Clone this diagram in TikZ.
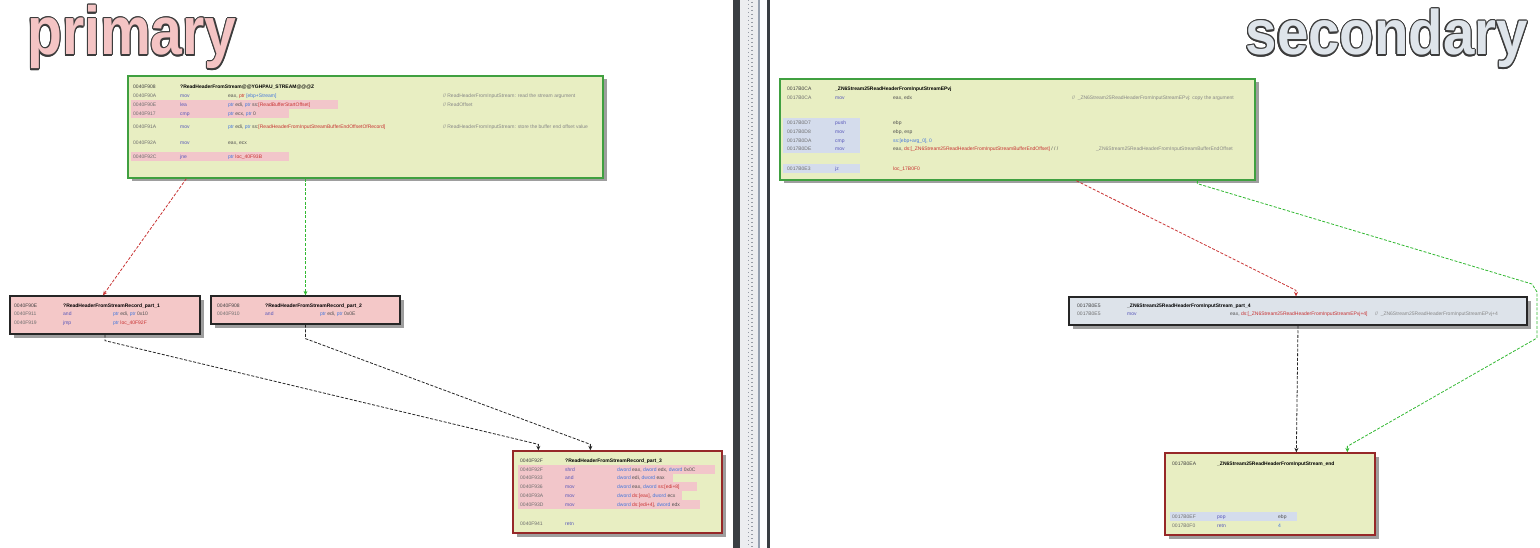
\documentclass[tikz,border=0pt]{standalone}
\usepackage{fontspec}
\setmainfont{Liberation Sans}
\usepackage[copies]{contour}
\usetikzlibrary{shadows,arrows.meta,calc}
\definecolor{yfill}{RGB}{232,238,194}
\definecolor{gborder}{RGB}{64,160,64}
\definecolor{pfill}{RGB}{244,200,200}
\definecolor{rborder}{RGB}{150,40,40}
\definecolor{bfill}{RGB}{221,227,234}
\definecolor{hlpink}{RGB}{242,198,202}
\definecolor{hlblue}{RGB}{212,220,236}
\definecolor{addrc}{RGB}{110,110,110}
\definecolor{mnc}{RGB}{85,85,185}
\definecolor{kwc}{RGB}{70,120,220}
\definecolor{nmc}{RGB}{200,50,50}
\definecolor{regc}{RGB}{80,80,80}
\definecolor{cmtc}{RGB}{135,135,135}
\definecolor{redE}{RGB}{200,50,50}
\definecolor{grnE}{RGB}{50,185,50}
\definecolor{titlepink}{RGB}{244,196,196}
\definecolor{titleblue}{RGB}{222,228,234}
\definecolor{titleedge}{RGB}{60,60,60}
\definecolor{divdark}{RGB}{58,62,66}
\definecolor{divlight}{RGB}{236,237,240}
\definecolor{divmid}{RGB}{150,160,175}
\definecolor{dotc}{RGB}{150,155,165}
\newcommand\codefont{\fontsize{5}{5.5}\selectfont}
\newcommand\kw[1]{\textcolor{kwc}{#1}}
\newcommand\nm[1]{\textcolor{nmc}{#1}}
\newcommand\asmrow[6]{%
  \node[code,text=addrc] (#1a) at (\cA,#2) {#3};
  \node[code,text=mnc] (#1m) at (\cM,#2) {#4};
  \node[code] (#1o) at (\cO,#2) {#5};
  \node[code,text=cmtc] (#1c) at (\cC,#2) {#6};}
\newcommand\hdrrow[4]{%
  \node[code,text=black!75] (#1a) at (\cA,#2) {#3};
  \node[code,text=black,font=\codefont\bfseries] (#1t) at (\cM,#2) {#4};}
\newcommand\hl[4]{\fill[#1] (#2,#4-6.5) rectangle (#3,#4+2.5);}
\contourlength{1.3pt}
\begin{document}
\begin{tikzpicture}[x=1pt,y=-1pt,
  code/.style={anchor=base west,inner sep=0,font=\codefont,text=regc},
  boxbase/.style={rectangle,inner sep=0,line width=1.3pt,
    drop shadow={shadow xshift=3.5pt,shadow yshift=-3.5pt,fill=black,opacity=0.38}},
  gbox/.style={boxbase,draw=gborder,fill=yfill},
  pbox/.style={boxbase,draw=black!85,fill=pfill},
  rbox/.style={boxbase,draw=rborder,fill=yfill},
  bbox/.style={boxbase,draw=black!85,fill=bfill},
  flow/.style={line width=0.8pt,dash pattern=on 3pt off 1.6pt,-{Stealth[length=4.5pt,width=4pt]}},
  ]
\useasboundingbox[fill=white] (0,0) rectangle (1540,548);
% divider
\fill[divdark] (733,0) rectangle (740,548);
\fill[divlight] (740,0) rectangle (758,548);
\draw[dotc,line width=1.3pt,dash pattern=on 1.3pt off 2.7pt] (748.5,0) -- (748.5,548);
\draw[dotc,line width=1.3pt,dash pattern=on 1.3pt off 2.7pt] (752,2) -- (752,548);
\fill[divmid] (758,0) rectangle (760,548);
\fill[divdark] (767,0) rectangle (770,548);
% titles
\node[anchor=base west,inner sep=0] (ptitle) at (27,55)
  {\scalebox{0.84}[1]{\fontsize{68}{68}\selectfont\bfseries\contour{titleedge}{\textcolor{titlepink}{primary}}}};
\node[anchor=base east,inner sep=0] (stitle) at (1528,55)
  {\scalebox{0.94}[1.05]{\fontsize{60}{60}\selectfont\bfseries\contour{titleedge}{\textcolor{titleblue}{secondary}}}};
% boxes
\node[gbox,minimum width=475pt,minimum height=102pt] (A) at (365.5,127) {};
\node[pbox,minimum width=190pt,minimum height=38pt] (B) at (105,315) {};
\node[pbox,minimum width=189pt,minimum height=28pt] (C) at (305.5,310) {};
\node[rbox,minimum width=209pt,minimum height=82pt] (D) at (617.5,492) {};
\node[gbox,minimum width=475pt,minimum height=101pt] (E) at (1017.5,129.5) {};
\node[bbox,minimum width=458pt,minimum height=28pt] (F) at (1298,311) {};
\node[rbox,minimum width=210pt,minimum height=82pt] (G) at (1270,494) {};
% ---- box A
\hl{hlpink}{131}{338}{107}
\hl{hlpink}{131}{289}{116}
\hl{hlpink}{131}{289}{159}
\def\cA{133}\def\cM{180}\def\cO{228}\def\cC{443}
\hdrrow{a0}{89}{0040F908}{?ReadHeaderFromStream@@YGHPAU\_STREAM@@@Z}
\asmrow{a1}{98}{0040F90A}{mov}{eax, \nm{ptr} \kw{[ebp+Stream]}}{// ReadHeaderFromInputStream: read the stream argument}
\asmrow{a2}{107}{0040F90E}{lea}{\kw{ptr} edi, \kw{ptr} ss:\nm{[ReadBufferStartOffset]}}{// ReadOffset}
\asmrow{a3}{116}{0040F917}{cmp}{\kw{ptr} ecx, \kw{ptr} 0}{}
\asmrow{a4}{129}{0040F91A}{mov}{\kw{ptr} edi, \kw{ptr} ss:\nm{[ReadHeaderFromInputStreamBufferEndOffsetOfRecord]}}{// ReadHeaderFromInputStream: store the buffer end offset value}
\asmrow{a5}{145}{0040F92A}{mov}{eax, ecx}{}
\asmrow{a6}{159}{0040F92C}{jne}{\kw{ptr} \nm{loc\_40F93B}}{}
% ---- box B
\def\cA{14}\def\cM{63}\def\cO{113}\def\cC{190}
\hdrrow{b0}{307}{0040F90E}{?ReadHeaderFromStreamRecord\_part\_1}
\asmrow{b1}{316}{0040F911}{and}{\kw{ptr} edi, \kw{ptr} 0x10}{}
\asmrow{b2}{324}{0040F919}{jmp}{\kw{ptr} \nm{loc\_40F92F}}{}
% ---- box C
\def\cA{217}\def\cM{265}\def\cO{320}\def\cC{390}
\hdrrow{c0}{307}{0040F908}{?ReadHeaderFromStreamRecord\_part\_2}
\asmrow{c1}{316}{0040F910}{and}{\kw{ptr} edi, \kw{ptr} 0x0E}{}
% ---- box D
\hl{hlpink}{518}{715}{471}
\hl{hlpink}{518}{673}{479}
\hl{hlpink}{518}{697}{488}
\hl{hlpink}{518}{682}{497}
\hl{hlpink}{518}{700}{506}
\def\cA{520}\def\cM{565}\def\cO{617}\def\cC{715}
\hdrrow{d0}{462}{0040F92F}{?ReadHeaderFromStreamRecord\_part\_3}
\asmrow{d1}{471}{0040F92F}{shrd}{\kw{dword} eax, \kw{dword} edx, \kw{dword} 0x0C}{}
\asmrow{d2}{479}{0040F933}{and}{\kw{dword} edi, \kw{dword} eax}{}
\asmrow{d3}{488}{0040F936}{mov}{\kw{dword} eax, \kw{dword} \nm{ss:[edi+8]}}{}
\asmrow{d4}{497}{0040F93A}{mov}{\kw{dword} \nm{ds:[eax]}, \kw{dword} ecx}{}
\asmrow{d5}{506}{0040F93D}{mov}{\kw{dword} \nm{ds:[edi+4]}, \kw{dword} edx}{}
\asmrow{d6}{525}{0040F941}{retn}{}{}
% ---- box E
\hl{hlblue}{783}{860}{125}
\hl{hlblue}{783}{860}{134}
\hl{hlblue}{783}{860}{143}
\hl{hlblue}{783}{860}{151}
\hl{hlblue}{783}{860}{171}
\def\cA{787}\def\cM{835}\def\cO{893}\def\cC{1072}
\hdrrow{e0}{91}{0017B0CA}{\_ZN6Stream25ReadHeaderFromInputStreamEPvj}
\asmrow{e1}{100}{0017B0CA}{mov}{eax, edx}{//\ \ \_ZN6Stream25ReadHeaderFromInputStreamEPvj: copy the argument}
\asmrow{e2}{125}{0017B0D7}{push}{ebp}{}
\asmrow{e3}{134}{0017B0D8}{mov}{ebp, esp}{}
\asmrow{e4}{143}{0017B0DA}{cmp}{\kw{ss:[ebp+arg\_0], 0}}{}
\asmrow{e5}{151}{0017B0DE}{mov}{eax, \nm{ds:[\_ZN6Stream25ReadHeaderFromInputStreamBufferEndOffset]} / / /}{\hspace{24pt}\_ZN6Stream25ReadHeaderFromInputStreamBufferEndOffset}
\asmrow{e6}{171}{0017B0E3}{jz}{\nm{loc\_17B0F0}}{}
% ---- box F
\def\cA{1077}\def\cM{1127}\def\cO{1230}\def\cC{1375}
\hdrrow{f0}{307}{0017B0E5}{\_ZN6Stream25ReadHeaderFromInputStream\_part\_4}
\asmrow{f1}{315}{0017B0E5}{mov}{eax, \nm{ds:[\_ZN6Stream25ReadHeaderFromInputStreamEPvj+4]}}{//\ \ \_ZN6Stream25ReadHeaderFromInputStreamEPvj+4}
% ---- box G
\hl{hlblue}{1170}{1297}{518}
\def\cA{1172}\def\cM{1217}\def\cO{1278}\def\cC{1360}
\hdrrow{g0}{465}{0017B0EA}{\_ZN6Stream25ReadHeaderFromInputStream\_end}
\asmrow{g1}{518}{0017B0EF}{pop}{ebp}{}
\asmrow{g2}{527}{0017B0F0}{retn}{\kw{4}}{}
% ---- connectors (left)
\draw[flow,redE] ($(A.south west)+(59,0)$) -- ($(B.north)+(-2,0)$);
\draw[flow,grnE] (A.south -| C.north) -- (C.north);
\draw[flow,black!85] (B.south) -- ++(0,6) -- ($(D.north west)+(26,-6)$) -- ($(D.north west)+(26,0)$);
\draw[flow,black!85] (C.south) -- ++(0,14) -- ($(D.north west)+(78,-6)$) -- ($(D.north west)+(78,0)$);
% ---- connectors (right)
\draw[flow,redE] ($(E.south west)+(297,0)$) -- ($(F.north)+(-2,-6)$) -- ($(F.north)+(-2,0)$);
\draw[flow,grnE] ($(E.south west)+(418,0)$) -- ++(0,3) -- (1532,284) -- (1537,292) -- (1537,338) -- ($(G.north west)+(183,-6)$) -- ($(G.north west)+(183,0)$);
\draw[flow,black!85] (F.south) -- ($(G.north west)+(132,0)$);
\end{tikzpicture}
\end{document}
